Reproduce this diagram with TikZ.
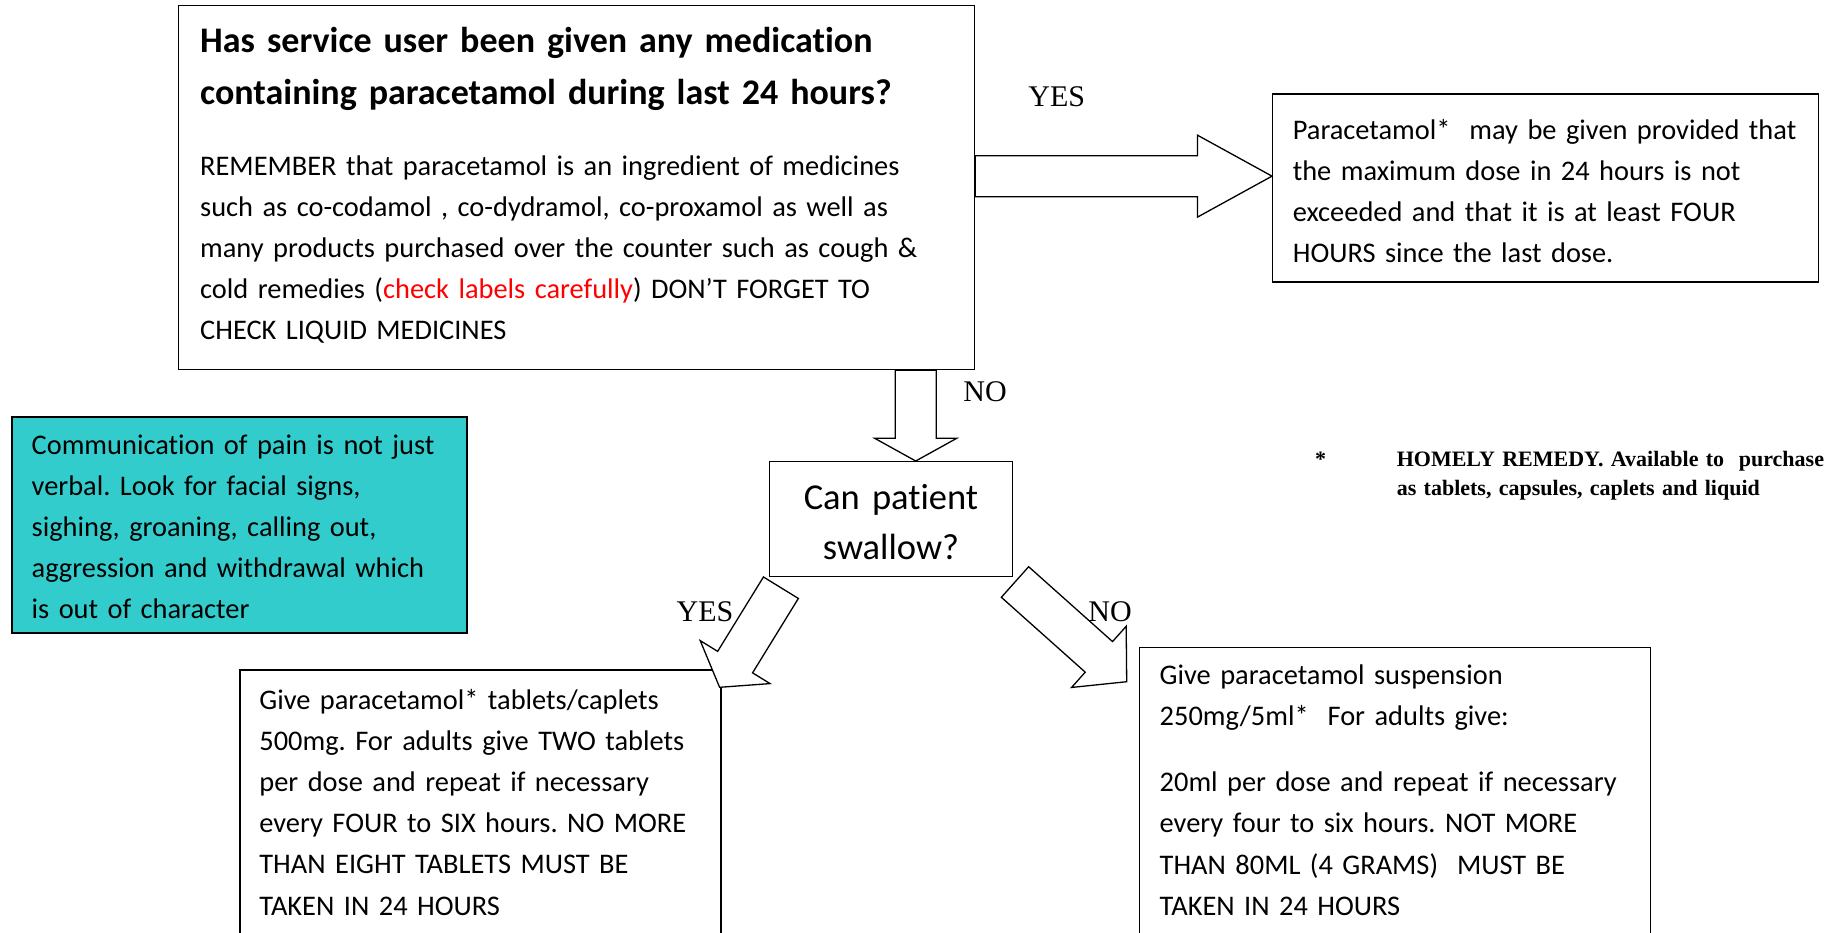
\documentclass[tikz,border=0pt]{standalone}
\usepackage{fontspec}
\setmainfont{Carlito}[Ligatures=NoCommon]
\newfontfamily\timesfont{Liberation Serif}
\usepackage{tikz}
\usetikzlibrary{calc,positioning}
\definecolor{paincyan}{RGB}{51,204,204}
\frenchspacing

\newcommand{\fatarrow}[3]{%
  \coordinate (hb) at ($(#3)!#1!(#2)$);
  \draw[fatarrow] ($(#2)!20.5pt!90:(#3)$) -- ($(hb)!20.5pt!90:(#3)$) -- ($(hb)!41pt!90:(#3)$) -- (#3)
    -- ($(hb)!41pt!-90:(#3)$) -- ($(hb)!20.5pt!-90:(#3)$) -- ($(#2)!20.5pt!-90:(#3)$) -- cycle;
}

\begin{document}
\begin{tikzpicture}[x=1pt,y=-1pt,
    boxframe/.style={rectangle,draw=black,line width=1.3pt,anchor=north west,inner sep=0pt},
    bodytext/.style={anchor=base west,align=left,text width=800pt,inner sep=0pt,font=\fontsize{28.4}{41.2}\selectfont},
    yesno/.style={font=\timesfont\fontsize{30}{30}\selectfont,inner sep=0pt},
    fatarrow/.style={draw=black,fill=white,line width=1.3pt,line join=miter}]

  \useasboundingbox (0,0) rectangle (1831,932);

  \node (q_main) [boxframe,minimum width=796.5pt,minimum height=364pt] at (177.5,5) {};
  \node (ans_yes) [boxframe,minimum width=546pt,minimum height=188pt] at (1272,93.4) {};
  \node (pain_note) [boxframe,fill=paincyan,line width=2pt,minimum width=455.5pt,minimum height=216pt] at (10.5,415.7) {};
  \node (q_swallow) [boxframe,minimum width=242.7pt,minimum height=115pt] at (769,461) {};
  \node (give_tab) [boxframe,minimum width=481pt,minimum height=300pt] at (239.4,669.3) {};
  \node (give_liq) [boxframe,minimum width=511.5pt,minimum height=300pt] at (1138.5,646.7) {};

  \node (q_main_title) [bodytext,font=\fontsize{36}{52.5}\selectfont\bfseries] at($(q_main.north west)+(22.5,47)$) {Has service user been given any medication\\containing paracetamol during last 24 hours?};
  \node (q_main_body) [bodytext] at($(q_main.north west)+(22.5,170)$) {REMEMBER that paracetamol is an ingredient of medicines\\such as co-codamol , co-dydramol, co-proxamol as well as\\many products purchased over the counter such as cough \&\\cold remedies (\textcolor{red}{check labels carefully}) DON’T FORGET TO\\CHECK LIQUID MEDICINES};
  \node (ans_yes_text) [bodytext] at($(ans_yes.north west)+(20.6,45.6)$) {Paracetamol*\ \ may be given provided that\\the maximum dose in 24 hours is not\\exceeded and that it is at least FOUR\\HOURS since the last dose.};
  \node (pain_text) [bodytext] at($(pain_note.north west)+(21,38.3)$) {Communication of pain is not just\\verbal. Look for facial signs,\\sighing, groaning, calling out,\\aggression and withdrawal which\\is out of character};
  \node (q_swallow_text) [anchor=base,align=center,text width=240pt,inner sep=0pt,font=\fontsize{36.5}{50}\selectfont] at($(q_swallow.north)+(0,48.5)$) {Can patient\\swallow?};
  \node (give_tab_text) [bodytext] at($(give_tab.north west)+(19.8,39.7)$) {Give paracetamol* tablets/caplets\\500mg. For adults give TWO tablets\\per dose and repeat if necessary\\every FOUR to SIX hours. NO MORE\\THAN EIGHT TABLETS MUST BE\\TAKEN IN 24 HOURS};
  \node (give_liq_text) [bodytext] at($(give_liq.north west)+(21,37.6)$) {Give paracetamol suspension\\250mg/5ml*\ \ For adults give:\\[25pt]20ml per dose and repeat if necessary\\every four to six hours. NOT MORE\\THAN 80ML (4 GRAMS)\ \ MUST BE\\TAKEN IN 24 HOURS};

  \coordinate (r_tail) at($(q_main.east)+(0,-11.5)$);
  \coordinate (r_tip) at(ans_yes.west |- r_tail);
  \fatarrow{74.6pt}{r_tail}{r_tip}
  \coordinate (d_tip) at($(q_swallow.north)+(24.7,0)$);
  \coordinate (d_tail) at(d_tip |- q_main.south);
  \fatarrow{22.7pt}{d_tail}{d_tip}
  \coordinate (y_tail) at($(q_swallow.south west)+(11.9,10.4)$);
  \coordinate (y_tip) at($(give_tab.north east)+(-2.1,18)$);
  \fatarrow{29.6pt}{y_tail}{y_tip}
  \coordinate (n_tail) at($(q_swallow.south east)+(2,4.7)$);
  \coordinate (n_tip) at($(give_liq.north west)+(-11.8,35)$);
  \fatarrow{37.3pt}{n_tail}{n_tip}

  \node (yes_top) [yesno] at (1056.8,96.9) {YES};
  \node (no_top) [yesno] at (985,391.7) {NO};
  \node (yes_diag) [yesno] at (705,611.7) {YES};
  \node (no_diag) [yesno] at (1110,611.7) {NO};

  \node (remedy) [bodytext,font=\timesfont\bfseries\fontsize{22}{29}\selectfont] at (1396.6,466.5) {HOMELY REMEDY. Available to\ \ purchase\\as tablets, capsules, caplets and liquid};
  \node (remedy_star) [anchor=base,inner sep=0pt,font=\timesfont\bfseries\fontsize{22}{29}\selectfont] at($(remedy.base west)+(-76,0)$) {*};

\end{tikzpicture}
\end{document}
